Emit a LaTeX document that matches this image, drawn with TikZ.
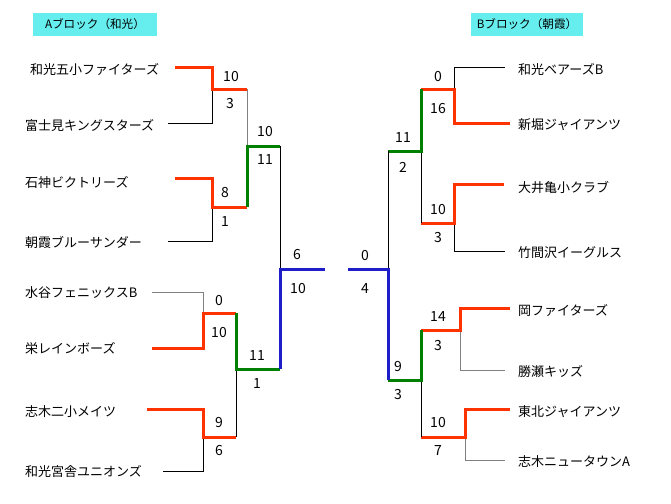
\documentclass[tikz,border=0pt]{standalone}
\usepackage{fontspec}
\newfontfamily\jpfont{Noto Sans CJK JP}
\definecolor{winred}{RGB}{255,51,0}
\definecolor{wingreen}{RGB}{0,128,0}
\definecolor{winblue}{RGB}{30,30,200}
\definecolor{blockcyan}{RGB}{102,238,238}
\begin{document}
\begin{tikzpicture}[x=1pt,y=-1pt,
  every node/.style={inner sep=0pt,font=\jpfont\fontsize{13}{13}\selectfont},
  team/.style={anchor=west},
  score/.style={font=\jpfont\fontsize{14}{14}\selectfont},
  block/.style={fill=blockcyan,minimum height=23.5pt,font=\jpfont\fontsize{11.6}{12}\selectfont},
  thin/.style={line width=1pt,black},
  thingray/.style={line width=1pt,gray},
  win1/.style={line width=3pt,winred},
  win2/.style={line width=3pt,wingreen},
  win3/.style={line width=3pt,winblue}]
\useasboundingbox (0,0) rectangle (671,503);

\node[block,minimum width=124pt] (blockA) at (95,24.3) {Aブロック（和光）};
\node[block,minimum width=112pt] (blockB) at (527,24.3) {Bブロック（朝霞）};

% A block
\node[team] (a1) at (30,70) {和光五小ファイターズ};
\node[team] (a2) at (25,126) {富士見キングスターズ};
\node[team] (a3) at (25,182) {石神ビクトリーズ};
\node[team] (a4) at (25,242) {朝霞ブルーサンダー};
\node[team] (a5) at (25,293) {水谷フェニックスB};
\node[team] (a6) at (25,349) {栄レインボーズ};
\node[team] (a7) at (25,412) {志木二小メイツ};
\node[team] (a8) at (25,472) {和光宮舎ユニオンズ};

\coordinate (a1s) at (175,67);
\coordinate (a2s) at (168,123);
\coordinate (ma1) at (212,89);
\coordinate (ma1e) at (247,89);
\coordinate (a3s) at (175,178);
\coordinate (a4s) at (168,241);
\coordinate (ma2) at (212,207);
\coordinate (ma2e) at (247,207);
\coordinate (ma12) at (280,146);
\coordinate (a5s) at (152,292);
\coordinate (a6s) at (152,348);
\coordinate (mb1) at (203,313);
\coordinate (mb1e) at (236,313);
\coordinate (a7s) at (147,409);
\coordinate (a8s) at (163,471);
\coordinate (mb2) at (203,437);
\coordinate (mb2e) at (236,437);
\coordinate (mb12) at (280,369);
\coordinate (afin) at (325,269);

\draw[thin] (a2s) -| (ma1);
\draw[win1] (a1s) -| (ma1) -- (ma1e);
\draw[thin] (a4s) -| (ma2);
\draw[win1] (a3s) -| (ma2) -- (ma2e);
\draw[thingray] (ma1e) -- (ma1e |- ma12);
\draw[win2] (ma2e) |- (ma12);
\draw[thingray] (a5s) -| (mb1);
\draw[win1] (a6s) -| (mb1) -- (mb1e);
\draw[thin] (a8s) -| (mb2);
\draw[win1] (a7s) -| (mb2) -- (mb2e);
\draw[thin] (mb2e) -- (mb2e |- mb12);
\draw[win2] (mb1e) |- (mb12);
\draw[thin] (ma12) -- (ma12 |- afin);
\draw[win3] (mb12) |- (afin);

\node[score] (sa1) at (231,77) {10};
\node[score] (sa2) at (230,104) {3};
\node[score] (sa3) at (225,193) {8};
\node[score] (sa4) at (225,222) {1};
\node[score] (sa12) at (265,132) {10};
\node[score] (sa34) at (265,160) {11};
\node[score] (sb1) at (219,301) {0};
\node[score] (sb2) at (219,333) {10};
\node[score] (sb3) at (219,423) {9};
\node[score] (sb4) at (219,451) {6};
\node[score] (sb12) at (257,356) {11};
\node[score] (sb34) at (257,384) {1};
\node[score] (saf) at (297,255) {6};
\node[score] (sbf) at (298,289) {10};

% B block
\node[team] (b1) at (518,70) {和光ベアーズB};
\node[team] (b2) at (518,125) {新堀ジャイアンツ};
\node[team] (b3) at (518,188) {大井亀小クラブ};
\node[team] (b4) at (518,253) {竹間沢イーグルス};
\node[team] (b5) at (518,311) {岡ファイターズ};
\node[team] (b6) at (518,372) {勝瀬キッズ};
\node[team] (b7) at (518,412) {東北ジャイアンツ};
\node[team] (b8) at (518,462) {志木ニュータウンA};

\coordinate (b1s) at (505,67);
\coordinate (b2s) at (510,123);
\coordinate (mc1) at (454,89);
\coordinate (mc1e) at (421,89);
\coordinate (b3s) at (504,184);
\coordinate (b4s) at (505,251);
\coordinate (mc2) at (454,223);
\coordinate (mc2e) at (421,223);
\coordinate (mc12) at (388,151);
\coordinate (b5s) at (510,308);
\coordinate (b6s) at (505,370);
\coordinate (md1) at (460,330);
\coordinate (md1e) at (421,330);
\coordinate (b7s) at (510,409);
\coordinate (b8s) at (505,460);
\coordinate (md2) at (465,437);
\coordinate (md2e) at (421,437);
\coordinate (md12) at (388,380);
\coordinate (bfin) at (348,269);

\draw[thin] (b1s) -| (mc1);
\draw[win1] (b2s) -| (mc1) -- (mc1e);
\draw[thin] (b4s) -| (mc2);
\draw[win1] (b3s) -| (mc2) -- (mc2e);
\draw[thin] (mc2e) -- (mc2e |- mc12);
\draw[win2] (mc1e) |- (mc12);
\draw[thingray] (b6s) -| (md1);
\draw[win1] (b5s) -| (md1) -- (md1e);
\draw[thingray] (b8s) -| (md2);
\draw[win1] (b7s) -| (md2) -- (md2e);
\draw[thin] (md2e) -- (md2e |- md12);
\draw[win2] (md1e) |- (md12);
\draw[thin] (mc12) -- (mc12 |- bfin);
\draw[win3] (md12) |- (bfin);

\node[score] (sc1) at (438,77) {0};
\node[score] (sc2) at (438,109) {16};
\node[score] (sc3) at (438,210) {10};
\node[score] (sc4) at (438,238) {3};
\node[score] (sc12) at (403,138) {11};
\node[score] (sc34) at (403,167) {2};
\node[score] (sd1) at (438,317) {14};
\node[score] (sd2) at (438,346) {3};
\node[score] (sd3) at (438,423) {10};
\node[score] (sd4) at (438,451) {7};
\node[score] (sd12) at (398,367) {9};
\node[score] (sd34) at (398,395) {3};
\node[score] (scf) at (365,256) {0};
\node[score] (sdf) at (365,289) {4};
\end{tikzpicture}
\end{document}
